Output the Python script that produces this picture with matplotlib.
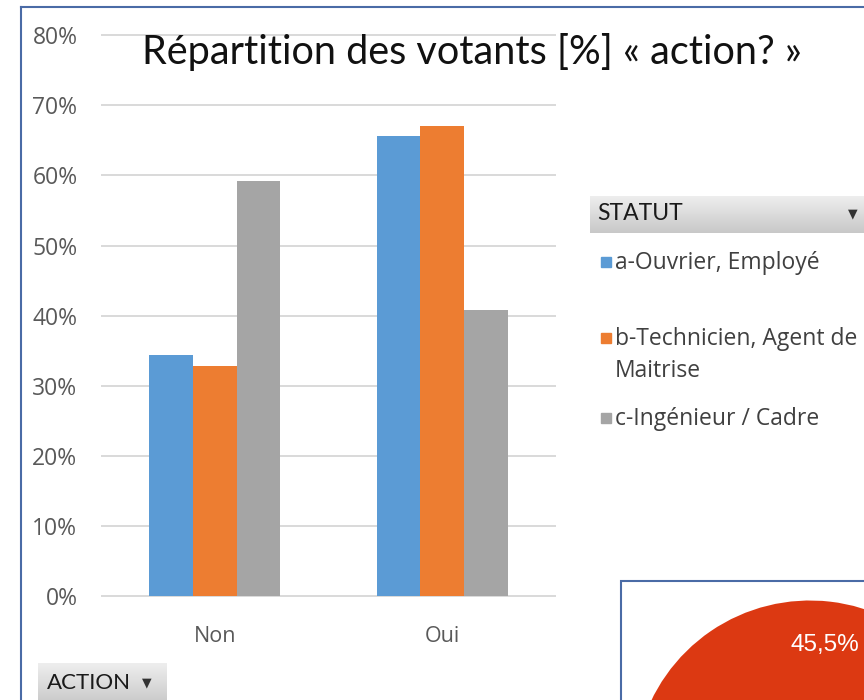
import numpy as np
import matplotlib.pyplot as plt
from matplotlib.patches import Rectangle
from matplotlib.lines import Line2D
from matplotlib.ticker import PercentFormatter
from matplotlib.colors import LinearSegmentedColormap

# data
categories = ['Non', 'Oui']
statuts = ['a-Ouvrier, Employé', 'b-Technicien, Agent de\nMaitrise', 'c-Ingénieur / Cadre']
ouvrier = [34.4, 65.6]
technicien = [32.9, 67.1]
ingenieur = [59.2, 40.8]
pie_values = [45.5, 54.5]

colors = ['#5B9BD5', '#ED7D31', '#A5A5A5']
frame_blue = '#4A6BA6'
W, H = 864, 700

plt.rcParams['font.family'] = ['Open Sans', 'DejaVu Sans']


# pixel -> figure fraction
def fx(x):
    return x / W


def fy(y):
    return 1 - y / H


def button(x0, y0, x1, y1):
    bax = fig.add_axes([fx(x0), fy(y1), fx(x1) - fx(x0), fy(y0) - fy(y1)])
    grad = np.linspace(0, 1, 64).reshape(-1, 1)
    cmap = LinearSegmentedColormap.from_list('btn', ['#EEEEEE', '#C8C8C8'])
    bax.imshow(grad, aspect='auto', cmap=cmap)
    bax.axis('off')


fig = plt.figure(figsize=(W / 100, H / 100), dpi=100)

# bar chart
ax = fig.add_axes([fx(101), fy(597), fx(556) - fx(101), fy(34.4) - fy(597)])
x = np.arange(len(categories))
width = 0.192
for i, (vals, c) in enumerate(zip([ouvrier, technicien, ingenieur], colors)):
    ax.bar(x + (i - 1) * width, np.array(vals) / 100, width, color=c, zorder=3)
ax.set_xlim(-0.5, 1.5)
ax.set_ylim(-0.001, 0.801)
ax.set_yticks(np.arange(0, 0.81, 0.1))
ax.yaxis.set_major_formatter(PercentFormatter(1.0, decimals=0))
ax.set_xticks(x, categories)
ax.grid(axis='y', color='#D9D9D9', lw=1.4)
ax.set_axisbelow(True)
for s in ax.spines.values():
    s.set_visible(False)
ax.tick_params(length=0, labelcolor='#595959')
ax.tick_params(axis='y', pad=17, labelsize=16.5)
ax.tick_params(axis='x', pad=21, labelsize=15.5)

fig.text(fx(471.5), fy(64), 'Répartition des votants [%] « action? »',
         ha='center', va='baseline', fontsize=28.5, family='Lato', color='#111111')

# legend panel
button(590, 196, 870, 233)
fig.text(fx(597), fy(214), 'STATUT', ha='left', va='center', fontsize=16.5,
         family='Lato', color='#1A1A1A')
fig.text(fx(853), fy(214), '▼', ha='center', va='center', fontsize=9,
         family='DejaVu Sans', color='#333333')
line_gap = 32
for name, c, yc in zip(statuts, colors, [262, 338, 418]):
    fig.patches.append(Rectangle((fx(601), fy(yc + 5)), 10 / W, 10 / H,
                                 transform=fig.transFigure, color=c))
    # multi-line text is anchored on its last baseline
    extra = name.count('\n') * line_gap
    fig.text(fx(615), fy(yc + 7 + extra), name, ha='left', va='baseline',
             fontsize=16.5, color='#404040', linespacing=1.45)

# ACTION field button
button(38, 663, 167, 705)
fig.text(fx(46.5), fy(683), 'ACTION', ha='left', va='center', fontsize=16,
         family='Lato', color='#1A1A1A')
fig.text(fx(147), fy(683), '▼', ha='center', va='center', fontsize=9,
         family='DejaVu Sans', color='#333333')

# outer frame
fig.add_artist(Line2D([fx(20.7), fx(20.7)], [fy(7.3), fy(705)], color=frame_blue, lw=1.5))
fig.add_artist(Line2D([fx(20.7), fx(870)], [fy(7.3), fy(7.3)], color=frame_blue, lw=1.5))

# pie panel (mostly off screen)
fig.patches.append(Rectangle((fx(620.7), fy(720)), fx(880) - fx(620.7), fy(580.7) - fy(720),
                             transform=fig.transFigure, facecolor='none',
                             edgecolor=frame_blue, lw=1.5))
r = 176
pax = fig.add_axes([fx(810 - r), fy(776.5 + r), 2 * r / W, 2 * r / H])
pax.pie(pie_values, colors=['#DC3912', '#3366CC'], startangle=1.5,
        autopct=lambda p: f'{p:.1f}%'.replace('.', ',') if p < 50 else '',
        pctdistance=0.75,
        textprops=dict(color='white', fontsize=17.5, family='Liberation Sans'))
pax.set_xlim(-1, 1)
pax.set_ylim(-1, 1)

fig.savefig('out.png', dpi=100)
